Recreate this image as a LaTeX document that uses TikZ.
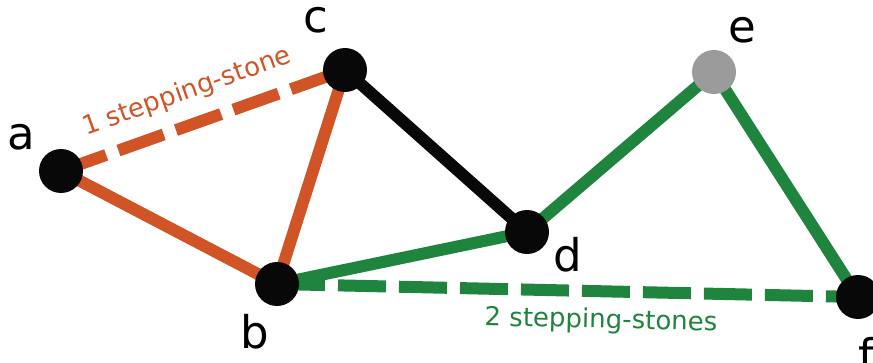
\documentclass[tikz,border=0pt]{standalone}
\usepackage{fontspec}
\setmainfont{DejaVu Sans}
\usepackage{tikz}
\usetikzlibrary{backgrounds}
\usepackage{xcolor}
\definecolor{StoneOrange}{RGB}{209, 84, 38}
\definecolor{StoneGreen}{RGB}{31, 132, 62}
\definecolor{StoneGrey}{RGB}{155, 155, 155}
\definecolor{StoneBlack}{RGB}{8, 8, 8}

\begin{document}
\begin{tikzpicture}[x=1pt, y=1pt,
    stone/.style={circle, fill=StoneBlack, minimum size=44pt, inner sep=0pt},
    letter/.style={anchor=base, font=\fontsize{45}{54}\selectfont},
    hop/.style={line width=12pt},
    gaphop/.style={line width=12pt, dash pattern=on 48pt off 13pt},
    hint/.style={font=\fontsize{26}{31}\selectfont}]
                    \useasboundingbox (0,0) rectangle (873,362);
                    \clip (0,0) rectangle (873,362);
                    % stones
                    \node[stone] (a) at (61,191) {};
                    \node[stone] (b) at (277,78) {};
                    \node[stone] (c) at (345,292) {};
                    \node[stone] (d) at (527,130) {};
                    \node[stone, fill=StoneGrey] (e) at (714,290) {};
                    \node[stone] (f) at (858,65) {};
                    % names
                    \node[letter] (la) at (21,212) {a};
                    \node[letter] (lb) at (255,14) {b};
                    \node[letter] (lc) at (316,329) {c};
                    \node[letter] (ld) at (568,91) {d};
                    \node[letter] (le) at (742,319) {e};
                    \node[letter] (lf) at (866,-9) {f};
                    % hops
                    \begin{scope}[on background layer]
                    \draw[hop, StoneOrange] (a.center) -- (b.center) -- (c.center);
                    \draw[gaphop, StoneOrange] (a.center) -- (c.center);
                    \draw[hop, StoneBlack] (c.center) -- (d.center);
                    \draw[hop, StoneGreen] (b.center) -- (d.center) -- (e.center) -- (f.center);
                    \draw[gaphop, StoneGreen] (b.center) -- (f.center);
                    \end{scope}
                    \node[hint, StoneOrange, rotate=19.6] (one) at (187,270) {1 stepping-stone};
                    \node[hint, StoneGreen, rotate=-1.3] (two) at (601,41) {2 stepping-stones};
                \end{tikzpicture}
\end{document}
